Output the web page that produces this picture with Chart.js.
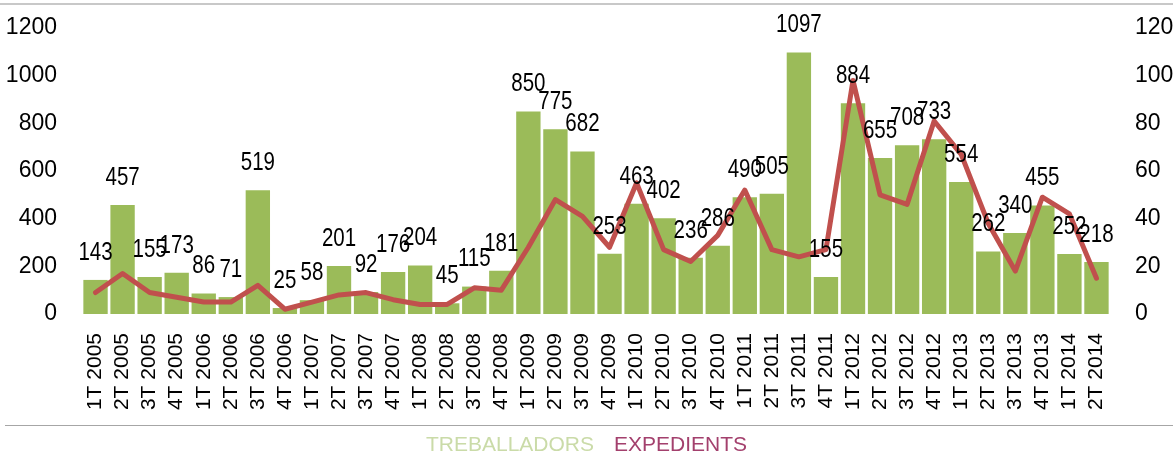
<!DOCTYPE html>
<html>
<head>
<meta charset="utf-8">
<script src="https://cdn.jsdelivr.net/npm/chart.js@4.4.1/dist/chart.umd.min.js"></script>
<style>
  html, body { margin: 0; padding: 0; background: #ffffff; }
  #wrap { position: relative; width: 1173px; height: 457px; overflow: hidden; }
  #topline { position: absolute; left: 0; top: 3px; width: 1173px; height: 2px; background: #c8c8c8; }
  #botline { position: absolute; left: 5px; top: 425px; width: 1168px; height: 1px; background: #a6a6a6; }
  #chartBox { position: absolute; left: 0; top: 0; width: 1173px; height: 457px; }
  #legend { position: absolute; left: 0; top: 431px; width: 1173px; text-align: center;
            font-family: "Liberation Sans", Arial, sans-serif; font-size: 21px; line-height: 26px; }
  #legend span { margin: 0 10px; }
</style>
</head>
<body>
<div id="wrap">
  <div id="chartBox"><canvas id="c" width="1173" height="457"></canvas></div>
  <div id="topline"></div>
  <div id="botline"></div>
  <div id="legend"></div>
</div>
<script>
const categories = [
  "1T 2005","2T 2005","3T 2005","4T 2005",
  "1T 2006","2T 2006","3T 2006","4T 2006",
  "1T 2007","2T 2007","3T 2007","4T 2007",
  "1T 2008","2T 2008","3T 2008","4T 2008",
  "1T 2009","2T 2009","3T 2009","4T 2009",
  "1T 2010","2T 2010","3T 2010","4T 2010",
  "1T 2011","2T 2011","3T 2011","4T 2011",
  "1T 2012","2T 2012","3T 2012","4T 2012",
  "1T 2013","2T 2013","3T 2013","4T 2013",
  "1T 2014","2T 2014"
];
const treballadors = [143,457,155,173,86,71,519,25,58,201,92,176,204,45,115,181,850,775,682,253,463,402,236,286,490,505,1097,155,884,655,708,733,554,262,340,455,252,218];
const expedients = [9,17,9,7,5,5,12,2,5,8,9,6,4,4,11,10,28,48,41,28,55,27,22,33,52,27,24,27,98,50,46,81,67,38,18,49,42,15];
const leftTicks = [0,200,400,600,800,1000,1200];
const rightTicks = [0,20,40,60,80,100,120];
const seriesNames = ["TREBALLADORS","EXPEDIENTS"];

const BAR_COLOR = "#9bbb59";
const LINE_COLOR = "#c0504d";
const LEGEND_COLORS = ["#cadba8", "#a3406d"];

const dataLabels = {
  id: "dataLabels",
  afterDatasetsDraw(chart) {
    const ctx = chart.ctx;
    const meta = chart.getDatasetMeta(1);
    ctx.save();
    ctx.font = '25px "Liberation Sans", Arial, sans-serif';
    ctx.fillStyle = "#000000";
    ctx.textAlign = "center";
    ctx.textBaseline = "middle";
    meta.data.forEach((el, i) => {
      ctx.save();
      ctx.translate(el.x, el.y - 27);
      ctx.scale(0.82, 1);
      ctx.fillText(String(treballadors[i]), 0, 0);
      ctx.restore();
    });
    ctx.restore();
  }
};

const tickFont = { family: '"Liberation Sans", Arial, sans-serif', size: 23 };

function fitY(width) {
  return function (scale) {
    scale.width = width;
    scale.paddingTop = 0;
    scale.paddingBottom = 0;
  };
}

const chart = new Chart(document.getElementById("c"), {
  data: {
    labels: categories,
    datasets: [
      {
        type: "line",
        label: seriesNames[1],
        data: expedients,
        yAxisID: "yR",
        borderColor: LINE_COLOR,
        backgroundColor: LINE_COLOR,
        borderWidth: 5,
        tension: 0,
        pointRadius: 0,
        borderCapStyle: "round",
        borderJoinStyle: "round",
        order: 0
      },
      {
        type: "bar",
        label: seriesNames[0],
        data: treballadors,
        yAxisID: "yL",
        backgroundColor: BAR_COLOR,
        borderWidth: 0,
        barPercentage: 0.9,
        categoryPercentage: 1.0,
        order: 1
      }
    ]
  },
  options: {
    responsive: false,
    animation: false,
    layout: { padding: { top: 28, bottom: 0, left: 0, right: 0 } },
    plugins: {
      legend: { display: false },
      tooltip: { enabled: false }
    },
    scales: {
      x: {
        grid: { display: false, drawTicks: false },
        border: { display: false },
        offset: true,
        ticks: {
          autoSkip: false,
          minRotation: 90,
          maxRotation: 90,
          padding: 19,
          color: "#000000",
          font: { family: '"Liberation Sans", Arial, sans-serif', size: 21 }
        },
        afterFit(scale) { scale.height = 143; scale.paddingLeft = 0; scale.paddingRight = 0; }
      },
      yL: {
        position: "left",
        min: leftTicks[0],
        max: leftTicks[leftTicks.length - 1],
        grid: { display: false, drawTicks: false },
        border: { display: false },
        ticks: {
          stepSize: leftTicks[1] - leftTicks[0],
          padding: 25,
          color: "#000000",
          font: tickFont,
          callback: (v) => String(v)
        },
        afterFit: fitY(82)
      },
      yR: {
        position: "right",
        min: rightTicks[0],
        max: rightTicks[rightTicks.length - 1],
        grid: { display: false, drawTicks: false },
        border: { display: false },
        ticks: {
          stepSize: rightTicks[1] - rightTicks[0],
          padding: 25,
          color: "#000000",
          font: tickFont,
          callback: (v) => String(v)
        },
        afterFit: fitY(63)
      }
    }
  },
  plugins: [dataLabels]
});

const legend = document.getElementById("legend");
seriesNames.forEach((name, i) => {
  const s = document.createElement("span");
  s.textContent = name;
  s.style.color = LEGEND_COLORS[i];
  legend.appendChild(s);
});
</script>
</body>
</html>
